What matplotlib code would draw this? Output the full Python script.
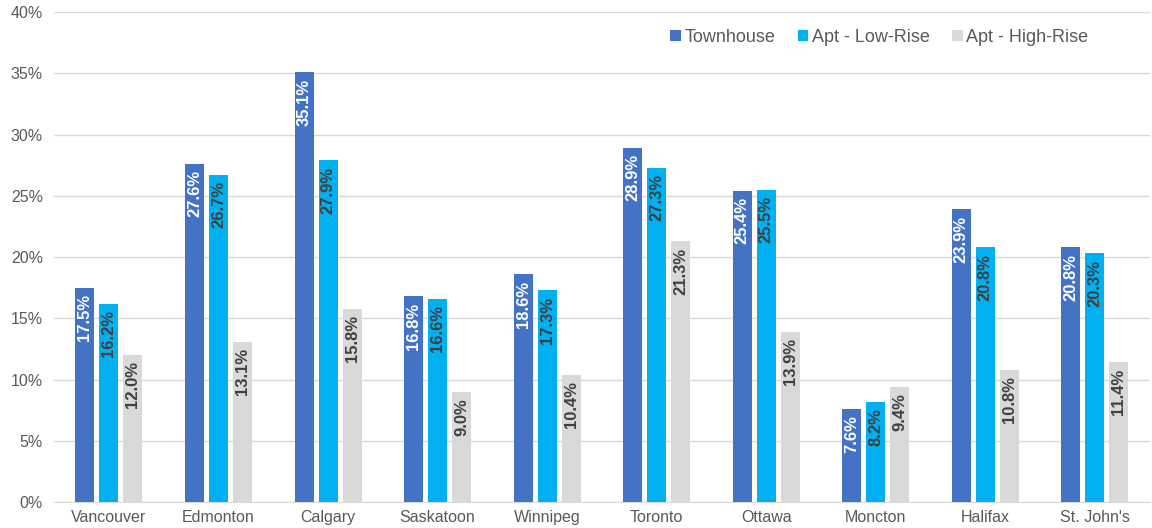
import matplotlib
matplotlib.use("Agg")
import matplotlib.pyplot as plt
import numpy as np

cities = ["Vancouver", "Edmonton", "Calgary", "Saskatoon", "Winnipeg",
          "Toronto", "Ottawa", "Moncton", "Halifax", "St. John's"]
townhouse = [17.5, 27.6, 35.1, 16.8, 18.6, 28.9, 25.4, 7.6, 23.9, 20.8]
low_rise = [16.2, 26.7, 27.9, 16.6, 17.3, 27.3, 25.5, 8.2, 20.8, 20.3]
high_rise = [12.0, 13.1, 15.8, 9.0, 10.4, 21.3, 13.9, 9.4, 10.8, 11.4]
series_names = ["Townhouse", "Apt - Low-Rise", "Apt - High-Rise"]
y_ticks = [0, 5, 10, 15, 20, 25, 30, 35, 40]

plt.rcParams["font.family"] = ["Liberation Sans", "DejaVu Sans"]

fig = plt.figure(figsize=(11.52, 5.28), dpi=100)
ax = fig.add_axes([0.047, 0.049, 0.951, 0.928])

colors = ["#4472C4", "#00B0F0", "#D9D9D9"]
label_colors = ["white", "#404040", "#404040"]
x = np.arange(len(cities))
width = 0.173
step = 0.219

for i, (vals, name) in enumerate(zip([townhouse, low_rise, high_rise], series_names)):
    pos = x + (i - 1) * step
    ax.bar(pos, vals, width=width, color=colors[i], label=name, zorder=3)
    for p, v in zip(pos, vals):
        ax.annotate(f"{v:.1f}%", xy=(p, v), xytext=(0, -4.5), textcoords="offset points",
                    rotation=90, ha="center", va="top", fontsize=12,
                    fontweight="bold", color=label_colors[i], zorder=4)

ax.set_xlim(-0.5, len(cities) - 0.5)
ax.set_ylim(0, 40)
ax.set_yticks(y_ticks)
ax.set_yticklabels([f"{t}%" for t in y_ticks])
ax.set_xticks(x)
ax.set_xticklabels(cities)
ax.tick_params(axis="both", length=0, labelsize=11.5, labelcolor="#595959")
ax.tick_params(axis="x", pad=6)
ax.tick_params(axis="y", pad=8)
ax.grid(axis="y", color="#D9D9D9", linewidth=1, zorder=0)
for s in ["top", "right", "left"]:
    ax.spines[s].set_visible(False)
ax.spines["bottom"].set_color("#D9D9D9")

leg = ax.legend(loc="upper right", bbox_to_anchor=(0.959, 0.999), ncol=3, frameon=False,
                fontsize=13, handlelength=0.6, handleheight=0.6, handletextpad=0.2,
                columnspacing=1.22)
for t in leg.get_texts():
    t.set_color("#595959")

fig.savefig("out.png", dpi=100)
